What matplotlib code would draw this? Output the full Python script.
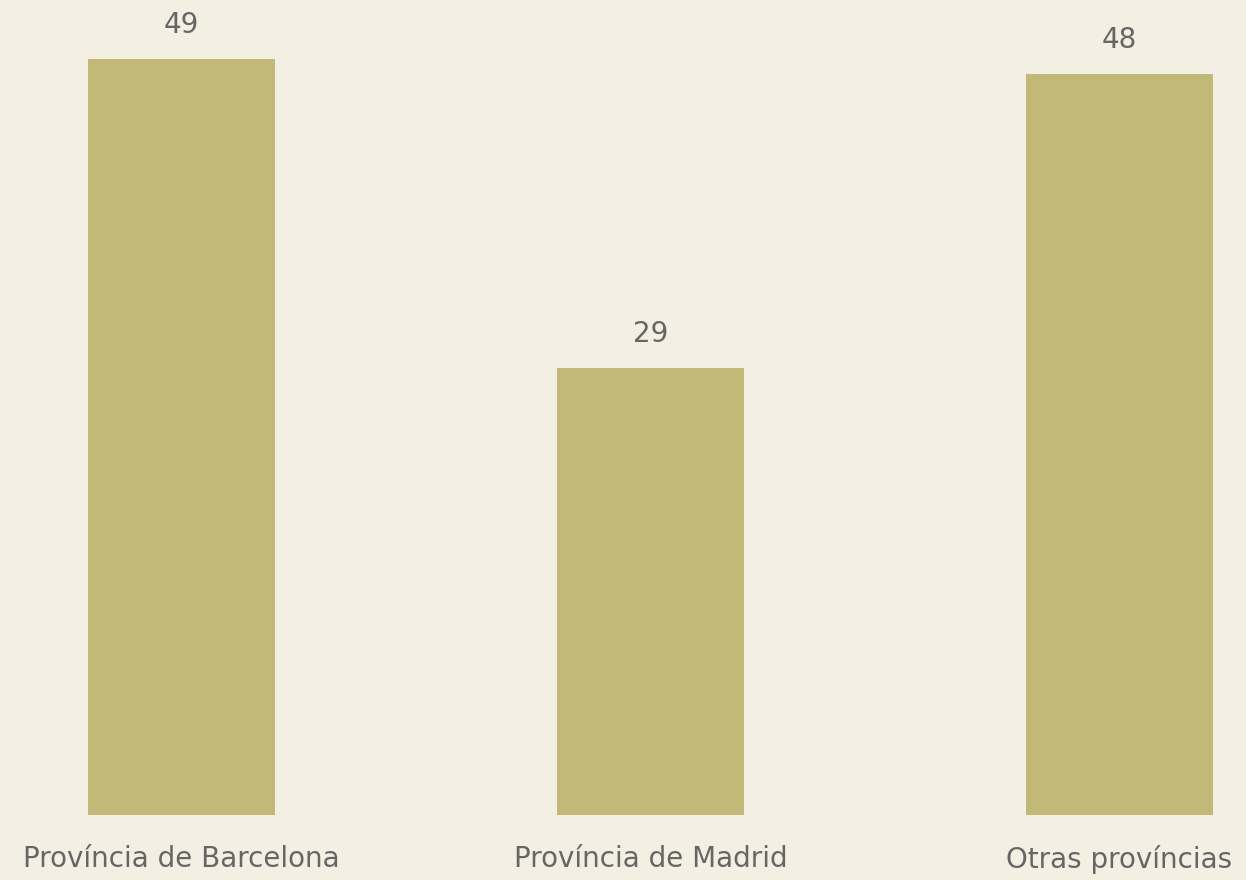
import matplotlib.pyplot as plt

# valores por provincia
provincias = ['Província de Barcelona', 'Província de Madrid', 'Otras províncias']
valores = [49, 29, 48]

fondo = '#F3F0E3'
color_barra = '#C2B978'
color_texto = '#666666'

fig = plt.figure(figsize=(12.46, 8.8), dpi=100, facecolor=fondo)
ax = fig.add_axes([0, 65 / 880, 1, 815 / 880])
ax.set_facecolor(fondo)

x = range(len(provincias))
barras = ax.bar(x, valores, width=0.4, color=color_barra)

for b, v in zip(barras, valores):
    ax.annotate(str(v), (b.get_x() + b.get_width() / 2, v),
                xytext=(0, 20), textcoords='offset pixels',
                ha='center', va='bottom', fontsize=20, color=color_texto)

ax.set_xlim(-181.5 / 469, (1246 - 181.5) / 469)
ax.set_ylim(0, 815 / 15.43)
ax.set_xticks(list(x))
ax.set_xticklabels(provincias, fontsize=20, color=color_texto)
ax.tick_params(axis='x', length=0, pad=21.5)
ax.set_yticks([])
for s in ax.spines.values():
    s.set_visible(False)

fig.savefig('out.png', dpi=100, facecolor=fondo)
